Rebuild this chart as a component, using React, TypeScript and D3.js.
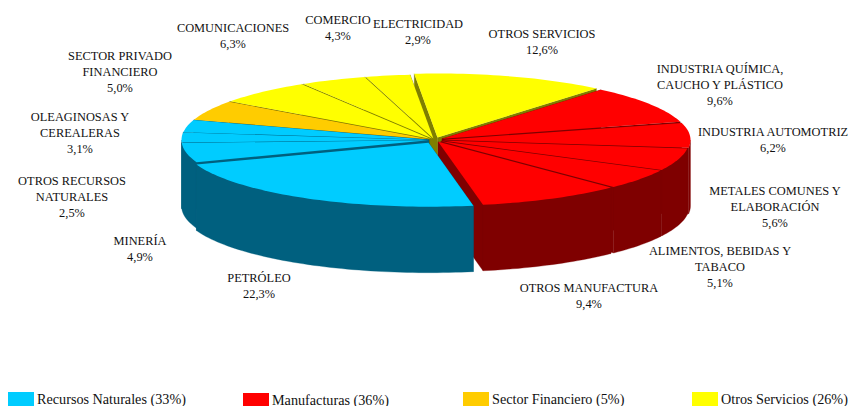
import React from "react";
import * as d3 from "d3";

// share of each sector, clockwise from the top of the pie
const sectors = [
  "OTROS SERVICIOS", "INDUSTRIA QUÍMICA", "INDUSTRIA AUTOMOTRIZ", "METALES COMUNES", "ALIMENTOS",
  "OTROS MANUFACTURA", "PETRÓLEO", "MINERÍA", "OTROS RECURSOS", "OLEAGINOSAS",
  "SECTOR PRIVADO", "COMUNICACIONES", "COMERCIO", "ELECTRICIDAD",
];
const shares = [12.6, 9.6, 6.2, 5.6, 5.1, 9.4, 22.3, 4.9, 2.5, 3.1, 5.0, 6.3, 4.3, 2.9];
const groups = [3, 1, 1, 1, 1, 1, 0, 0, 0, 0, 2, 3, 3, 3];
const explode = [10, 9, 9, 8, 8, 8, 12, 6, 6, 6, 6, 6, 6, 6];

const labelLines = [
  ["OTROS SERVICIOS", "12,6%"],
  ["INDUSTRIA QUÍMICA,", "CAUCHO Y PLÁSTICO", "9,6%"],
  ["INDUSTRIA AUTOMOTRIZ", "6,2%"],
  ["METALES COMUNES Y", "ELABORACIÓN", "5,6%"],
  ["ALIMENTOS, BEBIDAS Y", "TABACO", "5,1%"],
  ["OTROS MANUFACTURA", "9,4%"],
  ["PETRÓLEO", "22,3%"],
  ["MINERÍA", "4,9%"],
  ["OTROS RECURSOS", "NATURALES", "2,5%"],
  ["OLEAGINOSAS Y", "CEREALERAS", "3,1%"],
  ["SECTOR PRIVADO", "FINANCIERO", "5,0%"],
  ["COMUNICACIONES", "6,3%"],
  ["COMERCIO", "4,3%"],
  ["ELECTRICIDAD", "2,9%"],
];
const labelAnchors = [
  [542, 38], [720, 73], [773, 136], [775, 195], [720, 255], [589, 292], [259, 282],
  [140, 245], [72, 185], [80, 121], [120, 60], [233, 32], [338, 24], [418, 28],
];

const legendNames = ["Recursos Naturales (33%)", "Manufacturas (36%)", "Sector Financiero (5%)", "Otros Servicios (26%)"];
const legendX = [8, 243, 463, 692];
const legendY = [392, 393, 392, 392];
const topColors = ["#00ccff", "#ff0000", "#ffcc00", "#ffff00"];
const wallColors = ["#00607f", "#7f0000", "#7f6000", "#7f7f00"];

const width = 850;
const height = 406;
const cx = 434.5;
const cy = 140;
const rx = 247;
const ry = 64;
const depth = 66;
const tilt = ry / rx;
const startDeg = -5.4;

const pie = d3.pie<number>().sort(null)
  .startAngle((startDeg * Math.PI) / 180)
  .endAngle(((startDeg + 360) * Math.PI) / 180);

const line = d3.line();

export default function App() {
  const arcs = pie(shares);

  const slices = arcs.map((a, i) => {
    const mid = (a.startAngle + a.endAngle) / 2;
    const ox = cx + explode[i] * Math.sin(mid);
    const oy = cy - explode[i] * Math.cos(mid) * tilt;
    const pt = (t: number): [number, number] => [ox + rx * Math.sin(t), oy - ry * Math.cos(t)];
    const down = ([x, y]: [number, number]): [number, number] => [x, y + depth];
    const rim = (from: number, to: number) => {
      const n = Math.max(2, Math.ceil((to - from) * 40));
      return d3.range(n + 1).map((k) => pt(from + ((to - from) * k) / n));
    };
    const apex: [number, number] = [ox, oy];
    const top = line([apex, ...rim(a.startAngle, a.endAngle)]) + "Z";
    const walls = [
      line([apex, pt(a.startAngle), down(pt(a.startAngle)), down(apex)]) + "Z",
      line([apex, pt(a.endAngle), down(pt(a.endAngle)), down(apex)]) + "Z",
    ];
    const from = Math.max(a.startAngle, Math.PI / 2);
    const to = Math.min(a.endAngle, (3 * Math.PI) / 2);
    if (to > from) {
      const r = rim(from, to);
      walls.push(line([...r, ...r.map(down).reverse()]) + "Z");
    }
    // walls closest to the bottom of the pie get painted last
    const lo = a.startAngle - Math.PI;
    const hi = a.endAngle - Math.PI;
    const order = lo <= 0 && hi >= 0 ? 0 : Math.min(Math.abs(lo), Math.abs(hi));
    return { key: sectors[i], group: groups[i], top, walls, order };
  });
  const painted = [...slices].sort((p, q) => d3.descending(p.order, q.order));

  return (
    <svg width={width} height={height} style={{ position: "absolute", left: 0, top: 0, background: "#fff" }}
      fontFamily="'Liberation Serif', serif" fill="#000">
      {painted.map((s) => (
        <g key={s.key}>
          {s.walls.map((d, i) => (
            <path key={i} d={d} fill={wallColors[s.group]} stroke={wallColors[s.group]} strokeWidth={0.3} />
          ))}
        </g>
      ))}
      {/* tops sit above every wall */}
      {painted.map((s) => (
        <path key={s.key} d={s.top} fill={topColors[s.group]} />
      ))}
      {labelLines.map((lines, i) => (
        <text key={i} x={labelAnchors[i][0]} y={labelAnchors[i][1]} textAnchor="middle" fontSize={12.4} fill="#111">
          {lines.map((t, j) => (
            <tspan key={j} x={labelAnchors[i][0]} dy={j === 0 ? 0 : 16}>{t}</tspan>
          ))}
        </text>
      ))}
      {legendNames.map((name, i) => (
        <g key={name}>
          <rect x={legendX[i]} y={legendY[i]} width={i === 2 ? 26 : 26} height={14} fill={topColors[i]} />
          <text x={legendX[i] + 29} y={legendY[i] + 11.5} fontSize={14.2} fill="#111">{name}</text>
        </g>
      ))}
    </svg>
  );
}
